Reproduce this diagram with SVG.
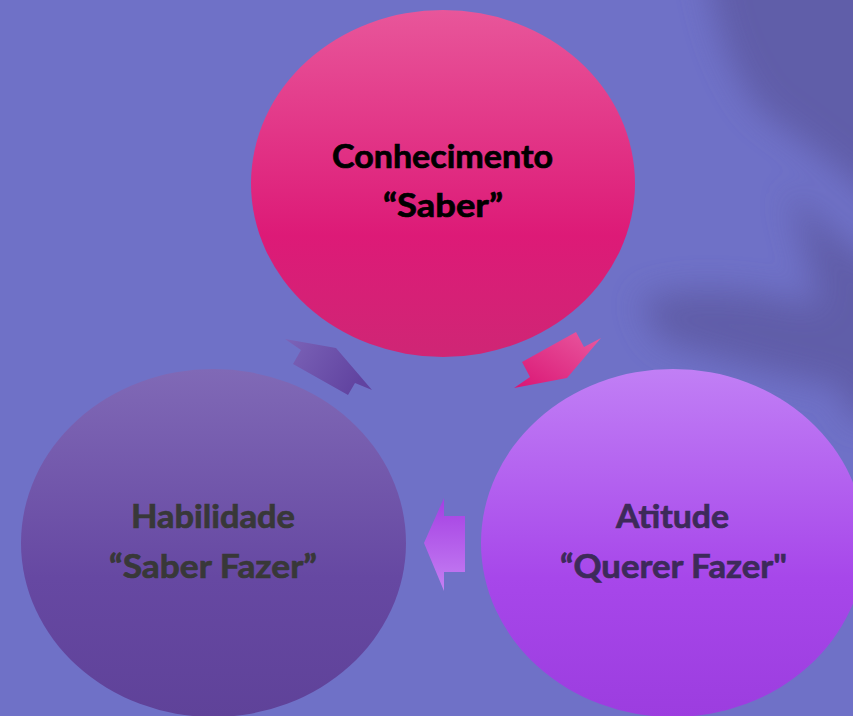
<svg xmlns="http://www.w3.org/2000/svg" width="853" height="716" viewBox="0 0 853 716">
  <defs>
    <linearGradient id="gTop" x1="0" y1="0" x2="0" y2="1">
      <stop offset="0" stop-color="#e8569a"/>
      <stop offset="0.65" stop-color="#dd1a77"/>
      <stop offset="1" stop-color="#cf2675"/>
    </linearGradient>
    <linearGradient id="gLeft" x1="0" y1="0" x2="0" y2="1">
      <stop offset="0" stop-color="#8069b6"/>
      <stop offset="0.6" stop-color="#6648a2"/>
      <stop offset="1" stop-color="#5f4299"/>
    </linearGradient>
    <linearGradient id="gRight" x1="0" y1="0" x2="0" y2="1">
      <stop offset="0" stop-color="#c17ff5"/>
      <stop offset="0.6" stop-color="#a747ea"/>
      <stop offset="1" stop-color="#9c3ddf"/>
    </linearGradient>
    <linearGradient id="gA1" x1="1" y1="0" x2="0" y2="1">
      <stop offset="0" stop-color="#e95aa0"/>
      <stop offset="1" stop-color="#da1574"/>
    </linearGradient>
    <linearGradient id="gA2" x1="0" y1="0" x2="1" y2="0.4">
      <stop offset="0" stop-color="#7c64b8"/>
      <stop offset="1" stop-color="#6143a0"/>
    </linearGradient>
    <linearGradient id="gA3" x1="0" y1="0" x2="0" y2="1">
      <stop offset="0" stop-color="#a43ee2"/>
      <stop offset="1" stop-color="#c580f3"/>
    </linearGradient>
    <filter id="blur" x="-50%" y="-50%" width="200%" height="200%">
      <feGaussianBlur stdDeviation="16"/>
    </filter>
    <style>
      .t { font-family: Lato, "Liberation Sans", sans-serif; font-weight: 700; font-size: 33px; text-anchor: middle; stroke-width: 0.7px; }
    </style>
  </defs>

  <g id="background">
    <rect x="0" y="0" width="853" height="716" fill="#6f71c7"/>
    <g filter="url(#blur)" fill="#5e5ca6" opacity="0.9">
      <path d="M705,-40 L900,-40 L900,230 C860,180 800,140 760,110 C730,70 715,30 705,-40 Z"/>
      <path d="M640,300 C700,280 780,290 900,330 L900,400 C800,380 720,360 660,340 Z"/>
      <path d="M790,190 C830,230 860,260 900,270 L900,420 L850,420 C830,330 805,260 790,190 Z"/>
    </g>
  </g>

  <g id="connectors">
    <polygon id="arrow-top-right" points="522,362 576,332 584,347 601,338 567,378 514,388 530,377" fill="url(#gA1)"/>
    <polygon id="arrow-bottom" points="444,498 444,516 465,516 465,572 444,572 444,591 424,543" fill="url(#gA3)"/>
    <polygon id="arrow-left" points="285,339 336,348 372,390 355,383 348,395 293,364 301,350" fill="url(#gA2)"/>
  </g>

  <g id="node-conhecimento">
    <ellipse cx="443" cy="183.5" rx="192" ry="173.5" fill="url(#gTop)"/>
    <text class="t" x="442.5" y="168" fill="#000000" stroke="#000000" textLength="221" lengthAdjust="spacingAndGlyphs">Conhecimento</text>
    <text class="t" x="443" y="217" fill="#000000" stroke="#000000" textLength="120" lengthAdjust="spacingAndGlyphs">“Saber”</text>
  </g>

  <g id="node-habilidade">
    <ellipse cx="213.5" cy="543" rx="192.5" ry="174" fill="url(#gLeft)"/>
    <text class="t" x="213" y="528" fill="#383838" stroke="#383838" textLength="164" lengthAdjust="spacingAndGlyphs">Habilidade</text>
    <text class="t" x="213" y="578" fill="#383838" stroke="#383838" textLength="208" lengthAdjust="spacingAndGlyphs">“Saber Fazer”</text>
  </g>

  <g id="node-atitude">
    <ellipse cx="673" cy="543" rx="192" ry="174" fill="url(#gRight)"/>
    <text class="t" x="672.5" y="528" fill="#3d2a5a" stroke="#3d2a5a" textLength="113" lengthAdjust="spacingAndGlyphs">Atitude</text>
    <text class="t" x="673.5" y="578" fill="#3d2a5a" stroke="#3d2a5a" textLength="227" lengthAdjust="spacingAndGlyphs">“Querer Fazer"</text>
  </g>
</svg>
